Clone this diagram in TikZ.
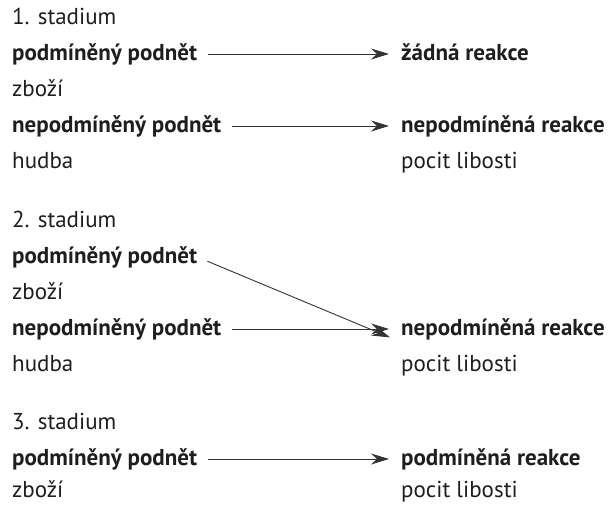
\documentclass[tikz,border=0pt]{standalone}
\usepackage{fontspec}
\setmainfont{PT Sans}
\usetikzlibrary{arrows.meta}
\definecolor{ink}{HTML}{1E1E1E}
\definecolor{arrowink}{HTML}{333333}
\tikzset{
  txt/.style={anchor=base west, inner xsep=0pt, inner ysep=0pt, text height=16pt, text depth=4pt, text=ink, font=\fontsize{23}{26}\selectfont},
  bold/.style={txt, font=\fontsize{23}{26}\selectfont\bfseries},
  conn/.style={draw=arrowink, line width=0.9pt, -{Stealth[length=18pt,width=11pt,inset=6pt]}, shorten <=11pt, shorten >=12pt}
}
\begin{document}
\begin{tikzpicture}[x=1pt,y=-1pt]
\useasboundingbox (0,0) rectangle (611,504);
% stage 1
\node[txt]  (s1)  at (12,24)  {1. stadium};
\node[bold] (pp1) at (12,60)  {podmíněný podnět};
\node[txt]  (z1)  at (12,96)  {zboží};
\node[bold] (np1) at (12,132) {nepodmíněný podnět};
\node[txt]  (h1)  at (12,168) {hudba};
\node[bold] (zr1) at (401,60)  {žádná reakce};
\node[bold] (nr1) at (401,132) {nepodmíněná reakce};
\node[txt]  (pl1) at (401,168) {pocit libosti};
\draw[conn] (pp1.east) -- (zr1.west);
\draw[conn] (np1.east) -- (nr1.west);
% stage 2
\node[txt]  (s2)  at (12,227) {2. stadium};
\node[bold] (pp2) at (12,263) {podmíněný podnět};
\node[txt]  (z2)  at (12,299) {zboží};
\node[bold] (np2) at (12,335) {nepodmíněný podnět};
\node[txt]  (h2)  at (12,371) {hudba};
\node[bold] (nr2) at (401,335) {nepodmíněná reakce};
\node[txt]  (pl2) at (401,371) {pocit libosti};
\draw[conn] (pp2.east) -- ([yshift=-13pt]nr2.west);
\draw[conn] (np2.east) -- (nr2.west);
% stage 3
\node[txt]  (s3)  at (12,429) {3. stadium};
\node[bold] (pp3) at (12,465) {podmíněný podnět};
\node[txt]  (z3)  at (12,497) {zboží};
\node[bold] (pr3) at (401,465) {podmíněná reakce};
\node[txt]  (pl3) at (401,497) {pocit libosti};
\draw[conn] (pp3.east) -- (pr3.west);
\end{tikzpicture}
\end{document}
